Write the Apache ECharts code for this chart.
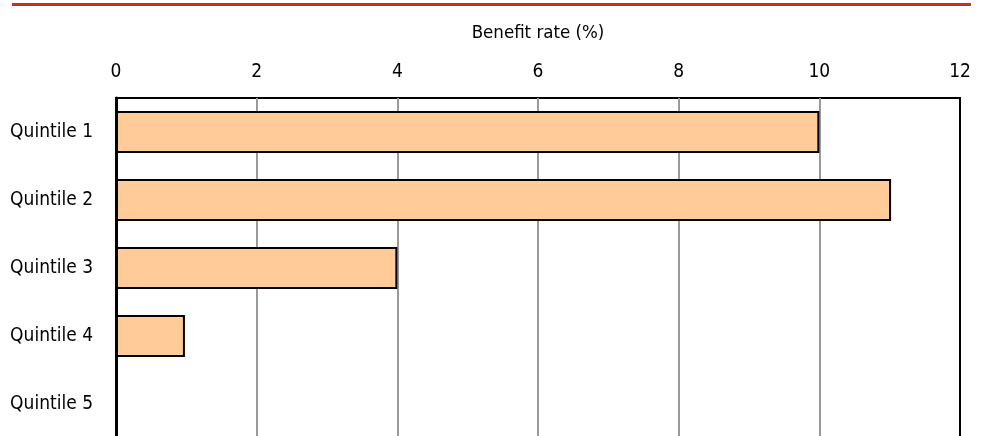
<!DOCTYPE html>
<html>
<head>
<meta charset="utf-8">
<script src="https://cdn.jsdelivr.net/npm/echarts@6/dist/echarts.min.js"></script>
<style>
  html, body { margin: 0; padding: 0; background: #fff; }
  #chart { width: 983px; height: 436px; }
</style>
</head>
<body>
<div id="chart"></div>
<script>
// 数据
var quintiles = ['Quintile 1', 'Quintile 2', 'Quintile 3', 'Quintile 4', 'Quintile 5'];
var benefitRate = [10.0, 11.02, 4.0, 0.98, 0];
var axisTitle = 'Benefit rate (%)';

var font = "'DejaVu Sans Condensed', 'Liberation Sans Narrow', sans-serif";

var myChart = echarts.init(document.getElementById('chart'));
var option = {
    backgroundColor: '#fff',
    animation: false,
    graphic: [
        {
            type: 'line',
            shape: {x1: 12, y1: 4.5, x2: 971, y2: 4.5},
            style: {stroke: '#c0311f', lineWidth: 3}
        }
    ],
    grid: {
        left: 116,
        right: 23,
        top: 98,
        height: 340,
        show: true,
        borderColor: '#000',
        borderWidth: 2,
        outerBoundsMode: 'none'
    },
    xAxis: {
        type: 'value',
        position: 'top',
        min: 0,
        max: 12,
        interval: 2,
        name: axisTitle,
        nameLocation: 'middle',
        nameGap: 55,
        nameMoveOverlap: false,
        nameTextStyle: {color: '#000', fontSize: 18.5, fontFamily: font},
        axisLine: {show: false},
        axisTick: {show: false},
        axisLabel: {color: '#000', fontSize: 19, fontFamily: font, margin: 16},
        splitLine: {show: true, showMinLine: false, showMaxLine: false, lineStyle: {color: '#9a9a9a', width: 2}}
    },
    yAxis: {
        type: 'category',
        inverse: true,
        data: quintiles,
        axisLine: {show: true, lineStyle: {color: '#000', width: 3}},
        axisTick: {show: false},
        axisLabel: {color: '#000', fontSize: 19, fontFamily: font, margin: 23}
    },
    series: [
        {
            type: 'bar',
            data: benefitRate,
            barCategoryGap: '38%',
            itemStyle: {
                color: '#ffcc99',
                borderColor: '#000',
                borderWidth: 2
            }
        }
    ]
};
myChart.setOption(option);
</script>
</body>
</html>
